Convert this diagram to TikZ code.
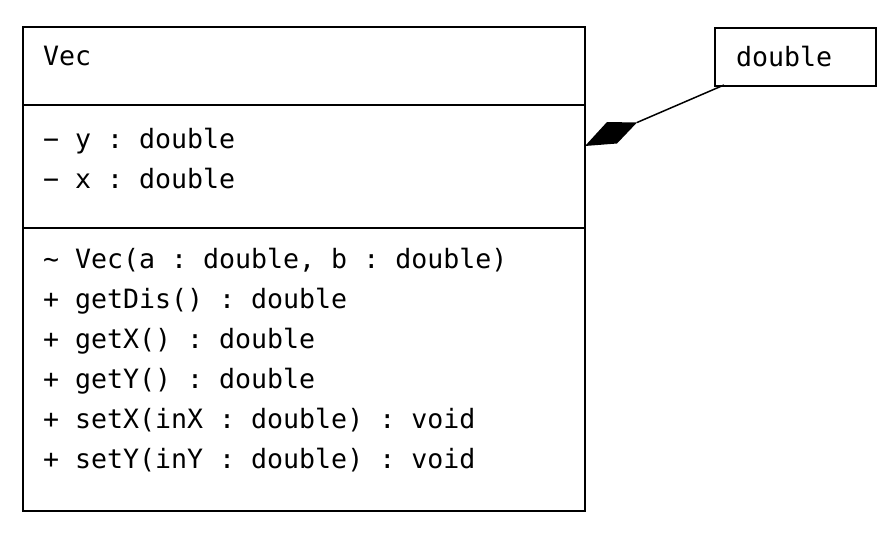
\documentclass[tikz,border=0pt]{standalone}
\usepackage{fontspec}
\setmonofont{DejaVu Sans Mono}
\usetikzlibrary{positioning}

\begin{document}
\begin{tikzpicture}[x=1pt,y=-1pt,line width=2pt,
  member/.style={anchor=base west,inner sep=0pt,font=\ttfamily\fontsize{26.6}{30}\selectfont},
  box/.style={draw,inner sep=0pt,anchor=north west}]
  \useasboundingbox (0,0) rectangle (894,538);
  % Class box with its compartments
  \node[box,minimum width=562pt,minimum height=484pt] (vec) at (22,26) {};
  \draw (22,105) -- (584,105);
  \draw (22,228) -- (584,228);
  \node[member] (name)  at (42,65)  {Vec};
  \node[member] (attry) at (42,148) {− y : double};
  \node[member] (attrx) at (42,188) {− x : double};
  \node[member] (ctor)  at (42,268) {\char`\~{} Vec(a : double, b : double)};
  \node[member] (mdis)  at (42,308) {+ getDis() : double};
  \node[member] (mgx)   at (42,348) {+ getX() : double};
  \node[member] (mgy)   at (42,388) {+ getY() : double};
  \node[member] (msx)   at (42,428) {+ setX(inX : double) : void};
  \node[member] (msy)   at (42,468) {+ setY(inY : double) : void};
  % Type box
  \node[box,minimum width=161pt,minimum height=58pt] (dbl) at (714,27) {};
  \node[member] (dbltxt) at (735,66) {double};
  % Composition
  \coordinate (tip)  at (585,146);
  \coordinate (head) at (637,122.5);
  \coordinate (end)  at (724,85);
  \fill (tip) -- (607,122) -- (head) -- (617,143.5) -- cycle;
  \draw[line width=1.5pt] (head) -- (end);
\end{tikzpicture}
\end{document}
